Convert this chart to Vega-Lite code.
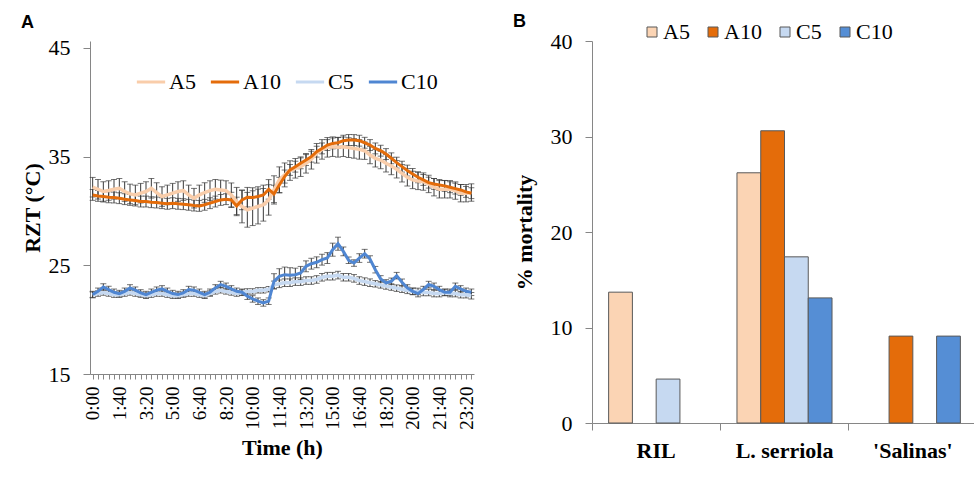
{
  "$schema": "https://vega.github.io/schema/vega-lite/v6.json",
  "padding": {"left": 21, "top": 13, "right": 0, "bottom": 0},
  "background": "white",
  "spacing": 31,
  "resolve": {"scale": {"color": "independent", "fill": "independent"}, "legend": {"color": "independent", "fill": "independent"}},
  "config": {
    "font": "Liberation Serif",
    "view": {"stroke": null},
    "axis": {"labelFont": "Liberation Serif", "labelFontSize": 22, "labelColor": "#000", "titleFont": "Liberation Serif", "titleFontSize": 22, "titleFontWeight": "bold", "titleColor": "#000", "domainColor": "#868686", "tickColor": "#868686", "grid": false},
    "legend": {"labelFont": "Liberation Serif", "labelFontSize": 22, "labelColor": "#000"},
    "title": {"font": "Liberation Sans", "fontSize": 18, "fontWeight": "bold", "anchor": "start", "frame": "bounds", "color": "#000"}
  },
  "hconcat": [
    {
      "title": {"text": "A", "offset": 5},
      "width": 384,
      "height": 333,
      "data": {"values": [
        {"t":"0:00","A5":32.19,"A10":31.48,"C5":22.3,"C10":22.31,"eA5":0.9,"eA10":0.5,"eC5":0.25,"eC10":0.3},
        {"t":"0:20","A5":32.00,"A10":31.39,"C5":22.4,"C10":22.61,"eA5":0.9,"eA10":0.5,"eC5":0.25,"eC10":0.3},
        {"t":"0:40","A5":31.79,"A10":31.33,"C5":22.5,"C10":23.01,"eA5":0.9,"eA10":0.5,"eC5":0.25,"eC10":0.3},
        {"t":"1:00","A5":31.88,"A10":31.27,"C5":22.4,"C10":22.77,"eA5":0.9,"eA10":0.5,"eC5":0.25,"eC10":0.3},
        {"t":"1:20","A5":32.00,"A10":31.24,"C5":22.3,"C10":22.52,"eA5":0.9,"eA10":0.5,"eC5":0.25,"eC10":0.3},
        {"t":"1:40","A5":32.09,"A10":31.18,"C5":22.3,"C10":22.40,"eA5":0.9,"eA10":0.5,"eC5":0.25,"eC10":0.3},
        {"t":"2:00","A5":31.79,"A10":31.09,"C5":22.4,"C10":22.61,"eA5":0.9,"eA10":0.5,"eC5":0.25,"eC10":0.3},
        {"t":"2:20","A5":31.57,"A10":31.02,"C5":22.5,"C10":22.92,"eA5":0.9,"eA10":0.5,"eC5":0.25,"eC10":0.3},
        {"t":"2:40","A5":31.48,"A10":30.96,"C5":22.4,"C10":22.71,"eA5":0.9,"eA10":0.5,"eC5":0.25,"eC10":0.3},
        {"t":"3:00","A5":31.64,"A10":30.87,"C5":22.3,"C10":22.46,"eA5":0.9,"eA10":0.5,"eC5":0.25,"eC10":0.3},
        {"t":"3:20","A5":31.79,"A10":30.87,"C5":22.2,"C10":22.31,"eA5":0.9,"eA10":0.5,"eC5":0.25,"eC10":0.3},
        {"t":"3:40","A5":32.09,"A10":30.81,"C5":22.3,"C10":22.52,"eA5":0.9,"eA10":0.5,"eC5":0.25,"eC10":0.3},
        {"t":"4:00","A5":31.70,"A10":30.78,"C5":22.4,"C10":22.71,"eA5":0.9,"eA10":0.5,"eC5":0.25,"eC10":0.3},
        {"t":"4:20","A5":31.33,"A10":30.72,"C5":22.4,"C10":22.83,"eA5":0.9,"eA10":0.5,"eC5":0.25,"eC10":0.3},
        {"t":"4:40","A5":31.48,"A10":30.66,"C5":22.3,"C10":22.61,"eA5":0.9,"eA10":0.5,"eC5":0.25,"eC10":0.3},
        {"t":"5:00","A5":31.64,"A10":30.72,"C5":22.2,"C10":22.40,"eA5":0.9,"eA10":0.5,"eC5":0.25,"eC10":0.3},
        {"t":"5:20","A5":31.79,"A10":30.66,"C5":22.2,"C10":22.31,"eA5":0.9,"eA10":0.5,"eC5":0.25,"eC10":0.3},
        {"t":"5:40","A5":31.88,"A10":30.63,"C5":22.3,"C10":22.46,"eA5":0.9,"eA10":0.5,"eC5":0.25,"eC10":0.3},
        {"t":"6:00","A5":31.48,"A10":30.57,"C5":22.4,"C10":22.77,"eA5":0.9,"eA10":0.5,"eC5":0.25,"eC10":0.3},
        {"t":"6:20","A5":31.18,"A10":30.50,"C5":22.4,"C10":22.71,"eA5":0.9,"eA10":0.5,"eC5":0.25,"eC10":0.3},
        {"t":"6:40","A5":31.48,"A10":30.47,"C5":22.3,"C10":22.52,"eA5":0.9,"eA10":0.5,"eC5":0.25,"eC10":0.3},
        {"t":"7:00","A5":31.70,"A10":30.57,"C5":22.2,"C10":22.31,"eA5":0.9,"eA10":0.5,"eC5":0.25,"eC10":0.3},
        {"t":"7:20","A5":31.88,"A10":30.72,"C5":22.4,"C10":22.52,"eA5":0.9,"eA10":0.5,"eC5":0.25,"eC10":0.3},
        {"t":"7:40","A5":32.00,"A10":30.87,"C5":22.6,"C10":22.92,"eA5":0.9,"eA10":0.5,"eC5":0.25,"eC10":0.3},
        {"t":"8:00","A5":31.94,"A10":31.02,"C5":22.7,"C10":23.23,"eA5":0.9,"eA10":0.5,"eC5":0.25,"eC10":0.3},
        {"t":"8:20","A5":31.88,"A10":31.09,"C5":22.6,"C10":23.07,"eA5":0.9,"eA10":0.5,"eC5":0.25,"eC10":0.3},
        {"t":"8:40","A5":31.48,"A10":31.02,"C5":22.5,"C10":22.83,"eA5":1.1,"eA10":0.7,"eC5":0.25,"eC10":0.3},
        {"t":"9:00","A5":30.87,"A10":30.47,"C5":22.4,"C10":22.61,"eA5":1.3,"eA10":0.8,"eC5":0.25,"eC10":0.3},
        {"t":"9:20","A5":30.41,"A10":31.02,"C5":22.5,"C10":22.52,"eA5":1.5,"eA10":0.9,"eC5":0.25,"eC10":0.3},
        {"t":"9:40","A5":30.11,"A10":31.27,"C5":22.6,"C10":22.16,"eA5":1.6,"eA10":0.9,"eC5":0.25,"eC10":0.3},
        {"t":"10:00","A5":30.26,"A10":31.24,"C5":22.6,"C10":21.91,"eA5":1.6,"eA10":0.9,"eC5":0.25,"eC10":0.3},
        {"t":"10:20","A5":30.41,"A10":31.33,"C5":22.7,"C10":21.70,"eA5":1.6,"eA10":0.9,"eC5":0.25,"eC10":0.3},
        {"t":"10:40","A5":30.57,"A10":31.48,"C5":22.7,"C10":21.54,"eA5":1.5,"eA10":0.9,"eC5":0.25,"eC10":0.3},
        {"t":"11:00","A5":31.02,"A10":31.99,"C5":22.8,"C10":21.70,"eA5":1.4,"eA10":0.9,"eC5":0.25,"eC10":0.3},
        {"t":"11:20","A5":31.94,"A10":31.57,"C5":23.2,"C10":23.53,"eA5":1.3,"eA10":0.8,"eC5":0.35,"eC10":0.7},
        {"t":"11:40","A5":32.86,"A10":32.40,"C5":23.3,"C10":23.99,"eA5":1.2,"eA10":0.7,"eC5":0.35,"eC10":0.7},
        {"t":"12:00","A5":33.32,"A10":33.17,"C5":23.4,"C10":24.14,"eA5":1.1,"eA10":0.6,"eC5":0.35,"eC10":0.7},
        {"t":"12:20","A5":33.72,"A10":33.78,"C5":23.4,"C10":24.08,"eA5":0.9,"eA10":0.5,"eC5":0.35,"eC10":0.7},
        {"t":"12:40","A5":33.93,"A10":34.08,"C5":23.5,"C10":24.14,"eA5":0.9,"eA10":0.5,"eC5":0.35,"eC10":0.6},
        {"t":"13:00","A5":34.08,"A10":34.39,"C5":23.5,"C10":24.30,"eA5":0.9,"eA10":0.5,"eC5":0.35,"eC10":0.6},
        {"t":"13:20","A5":34.39,"A10":34.69,"C5":23.6,"C10":24.91,"eA5":0.9,"eA10":0.5,"eC5":0.35,"eC10":0.5},
        {"t":"13:40","A5":34.76,"A10":35.00,"C5":23.6,"C10":25.15,"eA5":0.9,"eA10":0.5,"eC5":0.35,"eC10":0.5},
        {"t":"14:00","A5":35.31,"A10":35.46,"C5":23.7,"C10":25.28,"eA5":0.9,"eA10":0.5,"eC5":0.35,"eC10":0.5},
        {"t":"14:20","A5":35.67,"A10":35.76,"C5":23.9,"C10":25.52,"eA5":0.9,"eA10":0.5,"eC5":0.35,"eC10":0.5},
        {"t":"14:40","A5":35.86,"A10":36.07,"C5":24.0,"C10":25.67,"eA5":0.9,"eA10":0.5,"eC5":0.35,"eC10":0.5},
        {"t":"15:00","A5":35.92,"A10":36.22,"C5":24.0,"C10":26.44,"eA5":0.9,"eA10":0.5,"eC5":0.35,"eC10":0.6},
        {"t":"15:20","A5":35.86,"A10":36.28,"C5":24.1,"C10":26.99,"eA5":0.9,"eA10":0.5,"eC5":0.35,"eC10":0.6},
        {"t":"15:40","A5":35.92,"A10":36.47,"C5":23.9,"C10":26.28,"eA5":0.9,"eA10":0.5,"eC5":0.35,"eC10":0.4},
        {"t":"16:00","A5":35.83,"A10":36.53,"C5":23.9,"C10":25.46,"eA5":0.9,"eA10":0.5,"eC5":0.35,"eC10":0.3},
        {"t":"16:20","A5":35.76,"A10":36.53,"C5":23.8,"C10":25.21,"eA5":0.9,"eA10":0.5,"eC5":0.35,"eC10":0.3},
        {"t":"16:40","A5":35.67,"A10":36.47,"C5":23.6,"C10":25.67,"eA5":0.9,"eA10":0.5,"eC5":0.35,"eC10":0.4},
        {"t":"17:00","A5":35.55,"A10":36.28,"C5":23.5,"C10":26.07,"eA5":0.8,"eA10":0.5,"eC5":0.35,"eC10":0.4},
        {"t":"17:20","A5":35.15,"A10":36.07,"C5":23.4,"C10":25.58,"eA5":0.8,"eA10":0.5,"eC5":0.35,"eC10":0.3},
        {"t":"17:40","A5":34.85,"A10":35.76,"C5":23.3,"C10":24.60,"eA5":0.8,"eA10":0.5,"eC5":0.3,"eC10":0.3},
        {"t":"18:00","A5":34.69,"A10":35.55,"C5":23.2,"C10":23.75,"eA5":0.8,"eA10":0.5,"eC5":0.3,"eC10":0.3},
        {"t":"18:20","A5":34.39,"A10":35.24,"C5":23.1,"C10":23.38,"eA5":0.8,"eA10":0.5,"eC5":0.3,"eC10":0.3},
        {"t":"18:40","A5":34.14,"A10":34.85,"C5":23.0,"C10":23.53,"eA5":0.8,"eA10":0.5,"eC5":0.3,"eC10":0.3},
        {"t":"19:00","A5":33.84,"A10":34.45,"C5":22.9,"C10":24.05,"eA5":0.8,"eA10":0.5,"eC5":0.3,"eC10":0.3},
        {"t":"19:20","A5":33.47,"A10":34.08,"C5":22.8,"C10":23.44,"eA5":0.8,"eA10":0.5,"eC5":0.3,"eC10":0.3},
        {"t":"19:40","A5":33.10,"A10":33.72,"C5":22.7,"C10":22.92,"eA5":0.8,"eA10":0.5,"eC5":0.3,"eC10":0.3},
        {"t":"20:00","A5":32.86,"A10":33.41,"C5":22.6,"C10":22.61,"eA5":0.8,"eA10":0.5,"eC5":0.3,"eC10":0.3},
        {"t":"20:20","A5":32.77,"A10":33.10,"C5":22.6,"C10":22.40,"eA5":0.8,"eA10":0.5,"eC5":0.3,"eC10":0.3},
        {"t":"20:40","A5":32.71,"A10":32.86,"C5":22.5,"C10":22.77,"eA5":0.8,"eA10":0.5,"eC5":0.3,"eC10":0.3},
        {"t":"21:00","A5":32.49,"A10":32.61,"C5":22.5,"C10":23.23,"eA5":0.8,"eA10":0.5,"eC5":0.3,"eC10":0.3},
        {"t":"21:20","A5":32.19,"A10":32.49,"C5":22.4,"C10":23.07,"eA5":0.8,"eA10":0.5,"eC5":0.3,"eC10":0.3},
        {"t":"21:40","A5":32.00,"A10":32.40,"C5":22.4,"C10":22.77,"eA5":0.8,"eA10":0.5,"eC5":0.3,"eC10":0.3},
        {"t":"22:00","A5":32.00,"A10":32.31,"C5":22.5,"C10":22.52,"eA5":0.8,"eA10":0.5,"eC5":0.3,"eC10":0.3},
        {"t":"22:20","A5":32.00,"A10":32.19,"C5":22.4,"C10":22.52,"eA5":0.8,"eA10":0.5,"eC5":0.3,"eC10":0.3},
        {"t":"22:40","A5":31.88,"A10":32.06,"C5":22.4,"C10":23.07,"eA5":0.8,"eA10":0.5,"eC5":0.3,"eC10":0.3},
        {"t":"23:00","A5":31.64,"A10":31.94,"C5":22.3,"C10":22.83,"eA5":0.8,"eA10":0.5,"eC5":0.3,"eC10":0.3},
        {"t":"23:20","A5":31.64,"A10":31.76,"C5":22.3,"C10":22.61,"eA5":0.8,"eA10":0.5,"eC5":0.3,"eC10":0.3},
        {"t":"23:40","A5":31.70,"A10":31.64,"C5":22.2,"C10":22.52,"eA5":0.8,"eA10":0.5,"eC5":0.3,"eC10":0.3}
      ]},
      "encoding": {
        "x": {
          "field": "t", "type": "ordinal", "sort": null,
          "scale": {"type": "point", "padding": 0.5},
          "axis": {
            "title": "Time (h)", "labelAngle": 270, "labelFontSize": 19, "tickSize": 5, "labelPadding": 7, "titlePadding": 8, "labelOverlap": false,
            "labelExpr": "indexof(['0:00','1:40','3:20','5:00','6:40','8:20','10:00','11:40','13:20','15:00','16:40','18:20','20:00','21:40','23:20'], datum.value) >= 0 ? datum.value : ''"
          }
        }
      },
      "layer": [
        {"mark": {"type": "errorbar", "color": "#3a3a3a", "thickness": 1, "ticks": {"size": 6}},
         "encoding": {"y": {"field": "A5", "type": "quantitative", "title": "RZT (°C)", "scale": {"domain": [15, 45.644], "nice": false},
           "axis": {"values": [15, 25, 35, 45], "tickSize": 7, "labelPadding": 13, "titlePadding": 4}},
           "yError": {"field": "eA5"}}},
        {"mark": {"type": "errorbar", "color": "#3a3a3a", "thickness": 1, "ticks": {"size": 6}},
         "encoding": {"y": {"field": "A10", "type": "quantitative", "title": "RZT (°C)"}, "yError": {"field": "eA10"}}},
        {"mark": {"type": "errorbar", "color": "#3a3a3a", "thickness": 1, "ticks": {"size": 6}},
         "encoding": {"y": {"field": "C5", "type": "quantitative", "title": "RZT (°C)"}, "yError": {"field": "eC5"}}},
        {"mark": {"type": "errorbar", "color": "#3a3a3a", "thickness": 1, "ticks": {"size": 6}},
         "encoding": {"y": {"field": "C10", "type": "quantitative", "title": "RZT (°C)"}, "yError": {"field": "eC10"}}},
        {"mark": {"type": "line", "strokeWidth": 3.5},
         "encoding": {"y": {"field": "A5", "type": "quantitative", "title": "RZT (°C)"},
           "color": {"datum": "A5", "type": "nominal",
             "scale": {"domain": ["A5", "A10", "C5", "C10"], "range": ["#F9CDAA", "#E46C0A", "#C6D9F1", "#4F86D2"]},
             "legend": {"orient": "none", "legendX": 45, "legendY": 25, "direction": "horizontal", "columns": 4, "title": null, "symbolType": "stroke", "symbolSize": 800, "symbolStrokeWidth": 3, "labelOffset": 2, "columnPadding": 8}}}},
        {"mark": {"type": "line", "strokeWidth": 3},
         "encoding": {"y": {"field": "A10", "type": "quantitative", "title": "RZT (°C)"}, "color": {"datum": "A10", "type": "nominal"}}},
        {"mark": {"type": "line", "strokeWidth": 3.5},
         "encoding": {"y": {"field": "C5", "type": "quantitative", "title": "RZT (°C)"}, "color": {"datum": "C5", "type": "nominal"}}},
        {"mark": {"type": "line", "strokeWidth": 3},
         "encoding": {"y": {"field": "C10", "type": "quantitative", "title": "RZT (°C)"}, "color": {"datum": "C10", "type": "nominal"}}}
      ]
    },
    {
      "title": {"text": "B", "offset": -10},
      "width": 385,
      "height": 382,
      "data": {"values": [
        {"g": "RIL", "s": "A5", "v": 13.7},
        {"g": "RIL", "s": "C5", "v": 4.6},
        {"g": "L. serriola", "s": "A5", "v": 26.2},
        {"g": "L. serriola", "s": "A10", "v": 30.6},
        {"g": "L. serriola", "s": "C5", "v": 17.4},
        {"g": "L. serriola", "s": "C10", "v": 13.1},
        {"g": "'Salinas'", "s": "A10", "v": 9.1},
        {"g": "'Salinas'", "s": "C10", "v": 9.1}
      ]},
      "mark": {"type": "bar", "stroke": "#595959", "strokeWidth": 1},
      "encoding": {
        "x": {"field": "g", "type": "nominal", "sort": ["RIL", "L. serriola", "'Salinas'"],
          "scale": {"paddingInner": 0, "paddingOuter": 0},
          "axis": {"title": null, "labelAngle": 0, "labelFontWeight": "bold", "bandPosition": 0, "tickSize": 7, "labelPadding": 10}},
        "xOffset": {"field": "s", "type": "nominal", "sort": ["A5", "A10", "C5", "C10"],
          "scale": {"domain": ["A5", "A10", "C5", "C10"], "paddingInner": 0, "paddingOuter": 0.7}},
        "y": {"field": "v", "type": "quantitative", "title": "% mortality", "scale": {"domain": [0, 40], "nice": false},
          "axis": {"values": [0, 10, 20, 30, 40], "tickSize": 7, "labelPadding": 13, "titlePadding": 14}},
        "fill": {"field": "s", "type": "nominal",
          "scale": {"domain": ["A5", "A10", "C5", "C10"], "range": ["#FBD4B4", "#E46C0A", "#C6D9F1", "#558ED5"]},
          "legend": {"orient": "none", "legendX": 49, "legendY": -20, "direction": "horizontal", "columns": 4, "title": null, "symbolType": "square", "symbolSize": 100, "symbolStrokeColor": "#595959", "symbolStrokeWidth": 1, "labelOffset": 0, "columnPadding": 12}}
      }
    }
  ]
}
